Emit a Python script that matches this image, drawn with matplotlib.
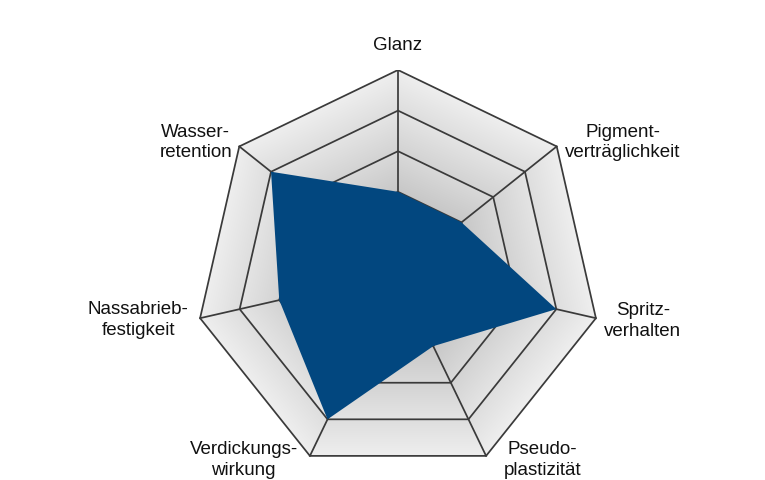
import numpy as np
import matplotlib
matplotlib.use("Agg")
import matplotlib.pyplot as plt
from matplotlib.patches import Polygon

# ---- data ----
categories = ["Glanz", "Pigment-\nverträglichkeit", "Spritz-\nverhalten",
              "Pseudo-\nplastizität", "Verdickungs-\nwirkung",
              "Nassabrieb-\nfestigkeit", "Wasser-\nretention"]
values = [2, 2, 4, 2, 4, 3, 4]
ring_levels = [1, 2, 3, 4, 5]
r_max = 5

# label block centres (x, y) in chart units relative to the centre
label_pos = [(0.0, 5.62), (5.54, 3.23), (6.03, -1.16), (3.55, -4.58),
             (-3.80, -4.58), (-6.40, -1.13), (-4.98, 3.23)]

W, H, DPI = 765, 481, 100
fig = plt.figure(figsize=(W / DPI, H / DPI), dpi=DPI)
fig.patch.set_facecolor("white")

cx, cy, R = 398, 274, 203
rect = [(cx - R) / W, (H - cy - R) / H, 2 * R / W, 2 * R / H]

n = len(categories)
theta = np.arange(n) * 2 * np.pi / n          # clockwise from top
vx = np.sin(theta)
vy = np.cos(theta)

# ---- cartesian layer: shading + grid ----
ax = fig.add_axes(rect)
ax.set_xlim(-r_max, r_max)
ax.set_ylim(-r_max, r_max)
ax.set_aspect("equal")
ax.axis("off")

g = np.linspace(-r_max, r_max, 600)
X, Y = np.meshgrid(g, g)
normals = theta + np.pi / n
proj = np.max([X * np.sin(a) + Y * np.cos(a) for a in normals], axis=0)
nd = proj / (r_max * np.cos(np.pi / n))
nd = np.clip(nd, 0, 1)
band = (nd * r_max) % 1.0
gray = 0.66 + 0.25 * nd ** 0.8 + 0.025 * band
gray = np.clip(gray, 0, 1)
img = np.dstack([gray, gray, gray])
outer = Polygon(np.column_stack([vx * r_max, vy * r_max]), closed=True,
                facecolor="none", edgecolor="none")
ax.add_patch(outer)
im = ax.imshow(img, extent=(-r_max, r_max, -r_max, r_max), origin="lower",
               interpolation="bilinear", zorder=0)
im.set_clip_path(outer)

for lv in ring_levels:
    ring = Polygon(np.column_stack([vx * lv, vy * lv]), closed=True,
                   facecolor="none", edgecolor="#3a3a3a", linewidth=1.25,
                   zorder=2)
    ax.add_patch(ring)
for i in range(n):
    ax.plot([0, vx[i] * r_max], [0, vy[i] * r_max], color="#3a3a3a",
            linewidth=1.25, zorder=2)

for lab, (lx, ly) in zip(categories, label_pos):
    ax.text(lx, ly, lab, ha="center", va="center", fontsize=13.5,
            family="Liberation Sans", color="#111111", linespacing=1.25,
            clip_on=False)

# ---- polar layer: data polygon ----
pax = fig.add_axes(rect, projection="polar")
pax.set_theta_offset(np.pi / 2)
pax.set_theta_direction(-1)
pax.set_ylim(0, r_max)
pax.patch.set_alpha(0)
pax.grid(False)
pax.set_xticks([])
pax.set_yticks([])
pax.spines["polar"].set_visible(False)

t_closed = np.append(theta, theta[0])
v_closed = np.append(values, values[0])
pax.fill(t_closed, v_closed, color="#02477f", linewidth=0, zorder=3)

fig.savefig("out.png", dpi=DPI)
